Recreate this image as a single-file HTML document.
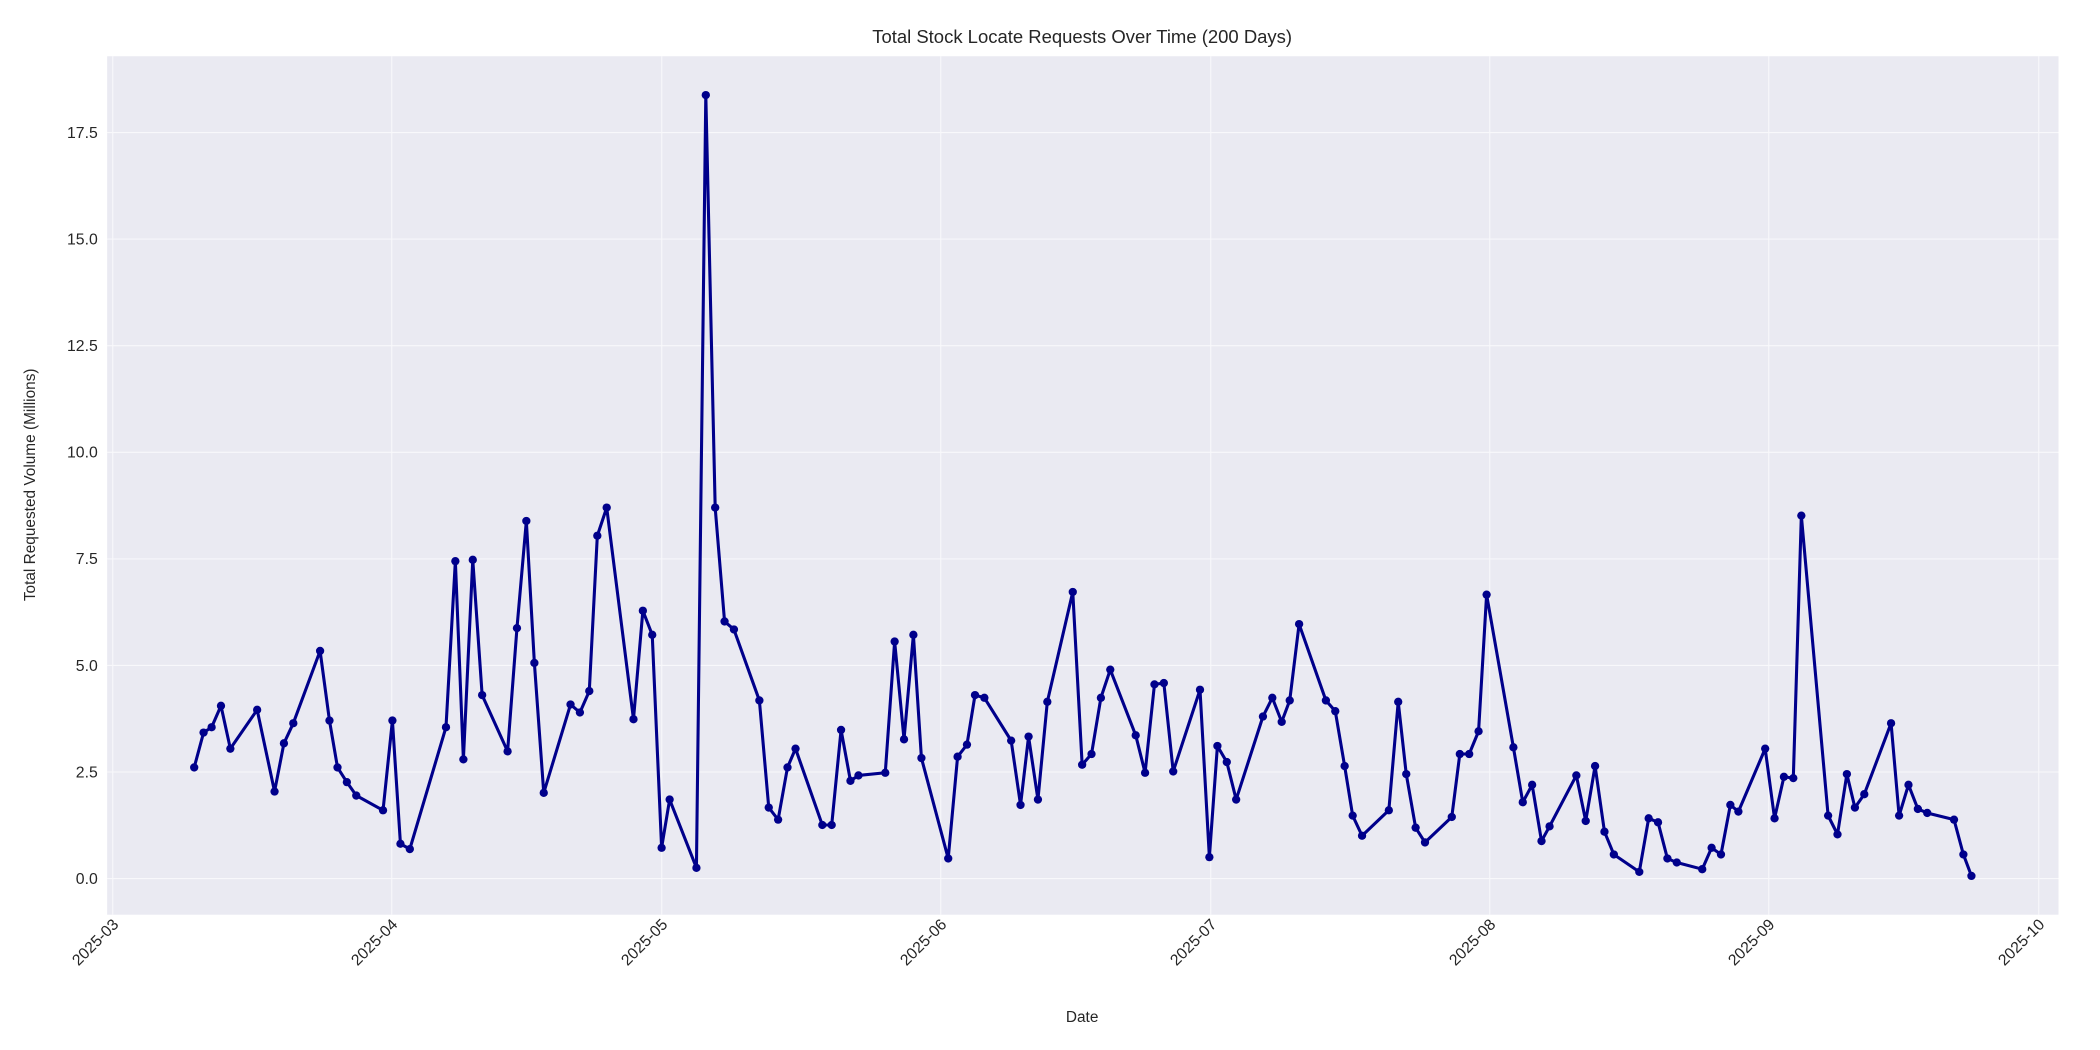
<!DOCTYPE html>
<html><head><meta charset="utf-8"><style>
html,body{margin:0;padding:0;background:#fff;}
svg{display:block;}
text{font-family:"Liberation Sans","DejaVu Sans",sans-serif;fill:#262626;}
</style></head><body>
<svg id="s" width="2100" height="1050" viewBox="0 0 1568 784" xmlns="http://www.w3.org/2000/svg">
<rect x="0" y="0" width="1568" height="784" fill="#fff"/>
<rect x="80" y="42" width="1457" height="641" fill="#EAEAF2"/>
<g id="grid" stroke="#fff" stroke-width="0.8" opacity="0.7"></g>
<g id="ticks"></g>
<text x="808" y="32" text-anchor="middle" font-size="13.8">Total Stock Locate Requests Over Time (200 Days)</text>
<text x="808" y="763" text-anchor="middle" font-size="11.5">Date</text>
<text transform="translate(26,362) rotate(-90)" text-anchor="middle" font-size="11.5">Total Requested Volume (Millions)</text>
<polyline id="line" fill="none" stroke="#00008B" stroke-width="2.3" stroke-linejoin="round"/>
<g id="dots" fill="#00008B"></g>
</svg>
<script>
var pts=[[145,573],[152,547],[158,543],[165,527],[172,559],[192,530],[205,591],[212,555],[219,540],[239,486],[246,538],[252,573],[259,584],[266,594],[286,605],[293,538],[299,630],[306,634],[333,543],[340,419],[346,567],[353,418],[360,519],[379,561],[386,469],[393,389],[399,495],[406,592],[426,526],[433,532],[440,516],[446,400],[453,379],[473,537],[480,456],[487,474],[494,633],[500,597],[520,648],[527,71],[534,379],[541,464],[548,470],[567,523],[574,603],[581,612],[588,573],[594,559],[614,616],[621,616],[628,545],[635,583],[641,579],[661,577],[668,479],[675,552],[682,474],[688,566],[708,641],[715,565],[722,556],[728,519],[735,521],[755,553],[762,601],[768,550],[775,597],[782,524],[801,442],[808,571],[815,563],[822,521],[829,500],[848,549],[855,577],[862,511],[869,510],[876,576],[896,515],[903,640],[909,557],[916,569],[923,597],[943,535],[950,521],[957,539],[963,523],[970,466],[990,523],[997,531],[1004,572],[1010,609],[1017,624],[1037,605],[1044,524],[1050,578],[1057,618],[1064,629],[1084,610],[1090,563],[1097,563],[1104,546],[1110,444],[1130,558],[1137,599],[1144,586],[1151,628],[1157,617],[1177,579],[1184,613],[1191,572],[1198,621],[1205,638],[1224,651],[1231,611],[1238,614],[1245,641],[1252,644],[1271,649],[1278,633],[1285,638],[1292,601],[1298,606],[1318,559],[1325,611],[1332,580],[1339,581],[1345,385],[1365,609],[1372,623],[1379,578],[1385,603],[1392,593],[1412,540],[1418,609],[1425,586],[1432,604],[1439,607],[1459,612],[1466,638],[1472,654]];
var NS="http://www.w3.org/2000/svg";
function el(t,a,p,txt){var e=document.createElementNS(NS,t);for(var k in a)e.setAttribute(k,a[k]);if(txt)e.textContent=txt;p.appendChild(e);return e;}
document.getElementById('line').setAttribute('points',pts.map(p=>p.join(',')).join(' '));
var d=document.getElementById('dots');pts.forEach(p=>el('circle',{cx:p[0],cy:p[1],r:3.1},d));
var g=document.getElementById('grid'),tk=document.getElementById('ticks');
for(var i=0;i<=7;i++){var v=i*2.5,y=656-v*31.83;el('line',{x1:80,x2:1537,y1:y,y2:y},g);
el('text',{x:73,y:y+4,'text-anchor':'end','font-size':'11.8'},tk,v.toFixed(1));}
var days=[0,31,61,92,122,153,184,214],lab=['2025-03','2025-04','2025-05','2025-06','2025-07','2025-08','2025-09','2025-10'];
days.forEach((dd,i)=>{var x=84.2+dd*6.72;el('line',{x1:x,x2:x,y1:42,y2:683},g);
el('text',{transform:'translate('+(x+5)+',691) rotate(-45)','text-anchor':'end','font-size':'11.8'},tk,lab[i]);});
</script>
</body></html>
